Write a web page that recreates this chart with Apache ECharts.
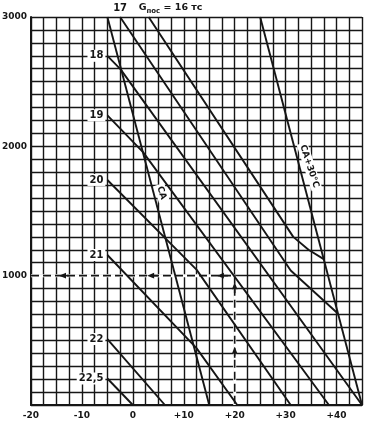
<!DOCTYPE html>
<html><head><meta charset="utf-8">
<script src="https://cdn.jsdelivr.net/npm/echarts@6/dist/echarts.min.js"></script>
<style>html,body{margin:0;padding:0;background:#fff}#c{width:371px;height:421px}</style>
</head><body><div id="c"></div>
<script>
// ---- data (temperature °C, altitude m) ----
const xTickLabels = [-20, -10, 0, 10, 20, 30, 40];
const yTickLabels = [1000, 2000, 3000];
const lineCA   = [[-5, 3000], [15, 0]];
const lineCA30 = [[25, 3000], [45, 0]];
const line16  = [[3.1, 3000], [31.5, 1300], [34.5, 1200], [37.4, 1130]];
const line17  = [[-2.5, 3000], [31, 1040], [40.1, 713]];
const line18  = [[-5, 2700], [-2.4, 2595], [45, 0]];
const line19  = [[-5, 2240], [2.0, 1955], [38.5, 0]];
const line20  = [[-5, 1740], [12.5, 1047], [31, 0]];
const line21  = [[-5, 1160], [12.5, 440], [20.5, 0]];
const line22  = [[-5, 510], [6.3, 0]];
const line225 = [[-5, 205], [0, 0]];
const guideH = [[-20, 1000], [20, 1000]];
const guideV = [[20, 1000], [20, 0]];
const arrowsLeftX = [-14.5, 2.8, 16.5];   // arrow tips on the 1000 m guide
const arrowsUpH = [950, 450];            // arrow tips on the +20 °C guide
const weightLines = [
  {label: '18', data: line18}, {label: '19', data: line19}, {label: '20', data: line20},
  {label: '21', data: line21}, {label: '22', data: line22}, {label: '22,5', data: line225}
];

const ink = '#161616';
const chart = echarts.init(document.getElementById('c'));
function ser(data, extra) {
  return Object.assign({type: 'line', data: data, symbol: 'none', silent: true, animation: false,
    lineStyle: {color: ink, width: 1.9}, z: 5}, extra || {});
}
chart.setOption({
  animation: false,
  backgroundColor: '#fff',
  grid: {left: 31, top: 17, right: 9, bottom: 16, containLabel: false, outerBoundsMode: 'none'},
  xAxis: {
    type: 'value', min: -20, max: 45, interval: 2.5,
    axisLine: {show: true, onZero: false, lineStyle: {color: ink, width: 2}},
    axisTick: {show: false},
    splitLine: {show: true, lineStyle: {color: ink, width: 1.4}},
    axisLabel: {
      margin: 6, color: ink, fontSize: 9, fontWeight: 'bold', fontFamily: 'DejaVu Sans',
      formatter: v => xTickLabels.includes(v) ? (v > 0 ? '+' + v : String(v)) : ''
    }
  },
  yAxis: {
    type: 'value', min: 0, max: 3000, interval: 100,
    axisLine: {show: true, onZero: false, lineStyle: {color: ink, width: 2}},
    axisTick: {show: false},
    splitLine: {show: true, lineStyle: {color: ink, width: 1.4}},
    axisLabel: {
      margin: 4, color: ink, fontSize: 9, fontWeight: 'bold', fontFamily: 'DejaVu Sans',
      formatter: v => yTickLabels.includes(v) ? String(v) : ''
    }
  },
  series: [
    ser(guideH, {lineStyle: {color: '#fff', width: 3}, z: 3}),
    ser(guideV, {lineStyle: {color: '#fff', width: 3}, z: 3}),
    ser(guideH, {lineStyle: {color: ink, width: 1.6, type: [8, 4]}, z: 4}),
    ser(guideV, {lineStyle: {color: ink, width: 1.6, type: [8, 4]}, z: 4}),
    ser(lineCA), ser(lineCA30), ser(line16), ser(line17),
    ...weightLines.map(w => ser(w.data))
  ]
});

// ---- annotations placed through the chart's own coordinate conversion ----
const P = (x, y) => chart.convertToPixel({gridIndex: 0}, [x, y]);
const g = [];
const font = 'bold 10px "DejaVu Sans"';
weightLines.forEach(w => {
  const p = P(w.data[0][0], w.data[0][1]);
  g.push({type: 'text', z: 10, x: p[0] - 2, y: p[1],
    style: {text: w.label, font: font, fill: ink, align: 'right', verticalAlign: 'middle',
      backgroundColor: '#fff', padding: [1, 2, 1, 2]}});
});
const p17 = P(line17[0][0], line17[0][1]);
g.push({type: 'text', z: 10, x: p17[0], y: 8,
  style: {text: '17', font: font, fill: ink, align: 'center', verticalAlign: 'middle'}});
const p16 = P(line16[0][0], line16[0][1]);
g.push({type: 'text', z: 10, x: p16[0] - 10, y: 8,
  style: {text: '{g|G}{s|пос}{g| = 16 тс}', align: 'left', verticalAlign: 'middle',
    rich: {g: {font: 'bold 9.5px "DejaVu Sans"', fill: ink}, s: {font: 'bold 7px "DejaVu Sans"', fill: ink, padding: [6, 0, 0, 0]}}}});
const rot = -72 * Math.PI / 180;
const pCA = P(15 - 1640 / 150, 1640);
g.push({type: 'text', z: 10, x: pCA[0] + 8, y: pCA[1], rotation: rot,
  style: {text: 'CA', font: 'bold 9px "DejaVu Sans"', fill: ink, align: 'center', verticalAlign: 'middle',
    backgroundColor: '#fff', padding: [1, 2, 1, 2]}});
const pCA30 = P(45 - 1845 / 150, 1845);
g.push({type: 'text', z: 10, x: pCA30[0] + 10, y: pCA30[1], rotation: rot,
  style: {text: 'CA+30°C', font: 'bold 9px "DejaVu Sans"', fill: ink, align: 'center', verticalAlign: 'middle',
    backgroundColor: '#fff', padding: [1, 2, 1, 2]}});
arrowsLeftX.forEach(x => {
  const p = P(x, guideH[0][1]);
  g.push({type: 'polygon', z: 10, shape: {points: [[p[0], p[1]], [p[0] + 7, p[1] - 2.8], [p[0] + 7, p[1] + 2.8]]},
    style: {fill: ink}});
  g.push({type: 'line', z: 10, shape: {x1: p[0] + 6, y1: p[1], x2: p[0] + 11, y2: p[1]}, style: {stroke: ink, lineWidth: 1.6}});
});
arrowsUpH.forEach(h => {
  const p = P(guideV[0][0], h);
  g.push({type: 'polygon', z: 10, shape: {points: [[p[0], p[1]], [p[0] - 2.8, p[1] + 7], [p[0] + 2.8, p[1] + 7]]},
    style: {fill: ink}});
  g.push({type: 'line', z: 10, shape: {x1: p[0], y1: p[1] + 6, x2: p[0], y2: p[1] + 11}, style: {stroke: ink, lineWidth: 1.6}});
});
chart.setOption({graphic: g});
</script></body></html>
